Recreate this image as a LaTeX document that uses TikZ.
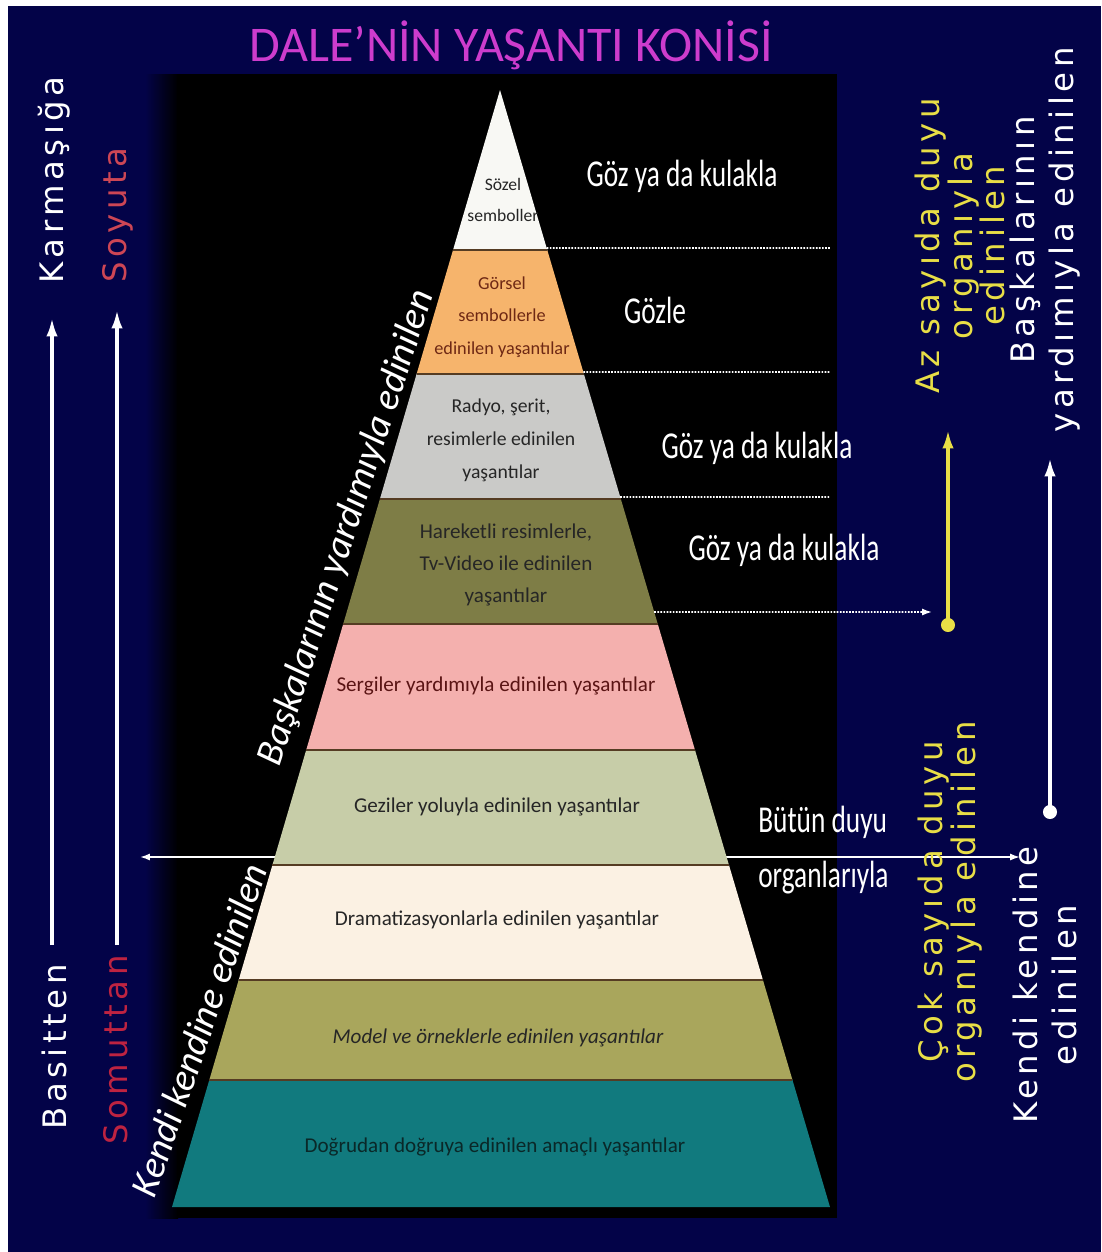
\documentclass[tikz,border=0pt]{standalone}
\usepackage{fontspec}
\usetikzlibrary{calc,arrows.meta}
\setmainfont{Carlito}
\newfontfamily\gozfont[FakeStretch=0.72]{Carlito}
\newfontfamily\sidefont[LetterSpace=14]{DejaVu Sans}

\definecolor{navy}{RGB}{3,3,72}
\definecolor{laywhite}{RGB}{248,248,244}
\definecolor{layorange}{RGB}{246,180,108}
\definecolor{laygray}{RGB}{202,202,200}
\definecolor{layolive}{RGB}{126,125,70}
\definecolor{laypink}{RGB}{244,176,174}
\definecolor{laysage}{RGB}{199,205,168}
\definecolor{laycream}{RGB}{251,241,227}
\definecolor{laykhaki}{RGB}{169,166,92}
\definecolor{layteal}{RGB}{17,122,126}
\definecolor{sepbrown}{RGB}{85,60,35}
\definecolor{titlemag}{RGB}{205,60,205}
\definecolor{yel}{RGB}{232,222,70}
\definecolor{soyred}{RGB}{205,70,85}
\definecolor{somred}{RGB}{190,35,65}

\tikzset{
  laytext/.style={align=center, inner sep=0pt, text=black!85,
    font=\fontsize{15}{23}\selectfont},
  goztext/.style={text=white, inner sep=0pt, font=\gozfont\fontsize{27}{30}\selectfont},
  sidelabel/.style={rotate=90, align=center, inner sep=0pt,
    font=\sidefont\fontsize{23}{28}\selectfont},
  edgelabel/.style={text=white, inner sep=0pt, font=\itshape\fontsize{27.5}{30}\selectfont},
  sepline/.style={sepbrown, line width=2pt},
  dotline/.style={white, densely dotted, line width=1.2pt},
  thinarrow/.style={white, line width=1.2pt, -{Latex[length=7pt,width=5pt]}},
  bigarrow/.style={line width=2.4pt, -{Latex[length=13pt,width=8pt]}},
  dotnode/.style={circle, inner sep=0pt, minimum size=10pt}
}

\begin{document}
\begin{tikzpicture}[x=0.025cm, y=-0.025cm]
\useasboundingbox (0,0) rectangle (1101,1252);
% background
\fill[white] (0,0) rectangle (1101,1252);
\fill[navy] (8,6) rectangle (1101,1252);
\shade[left color=navy, right color=black] (145,74) rectangle (178,1218);
\fill[black] (177,74) rectangle (837,1218);

% title
\node[text=titlemag, inner sep=0pt, font=\fontsize{35.5}{36}\selectfont] (title) at (511,45) {DALE'NİN YAŞANTI KONİSİ};

% the cone
\coordinate (apex) at (500,90);
\coordinate (bl) at (172,1207);
\coordinate (br) at (830,1207);

% horizontal line behind the cone
\coordinate (hl0) at (280,857);
\coordinate (hl1) at (140,857);
\coordinate (hr0) at (722,857);
\coordinate (hr1) at (1020,857);
\draw[thinarrow] (hl0) -- (hl1);
\draw[thinarrow] (hr0) -- (hr1);

\foreach \ya/\yb/\col in {90/250/laywhite, 250/374/layorange, 374/499/laygray,
    499/624/layolive, 624/750/laypink, 750/865/laysage, 865/980/laycream,
    980/1080/laykhaki, 1080/1207/layteal}{
  \pgfmathsetmacro\ta{(\ya-90)/1117}
  \pgfmathsetmacro\tb{(\yb-90)/1117}
  \fill[\col] ($(apex)!\ta!(bl)$) -- ($(apex)!\tb!(bl)$)
    -- ($(apex)!\tb!(br)$) -- ($(apex)!\ta!(br)$) -- cycle;
}
\foreach \yb in {250,374,499,624,750,865,980,1080}{
  \pgfmathsetmacro\tb{(\yb-90)/1117}
  \draw[sepline] ($(apex)!\tb!(bl)$) -- ($(apex)!\tb!(br)$);
}

% layer texts
\node[laytext, font=\fontsize{12.5}{22}\selectfont] (sozel) at (503,200) {Sözel\\semboller};
\node[laytext, text={rgb,255:red,110;green,40;blue,20}, font=\fontsize{13}{23}\selectfont] (gorsel) at (502,317) {Görsel\\sembollerle\\edinilen yaşantılar};
\node[laytext, font=\fontsize{14}{23.5}\selectfont] (radyo) at (501,440) {Radyo, şerit,\\resimlerle edinilen\\yaşantılar};
\node[laytext, font=\fontsize{15}{23}\selectfont] (hareketli) at (506,565) {Hareketli resimlerle,\\Tv-Video ile edinilen\\yaşantılar};
\node[laytext, text={rgb,255:red,90;green,20;blue,20}] (sergiler) at (496,686) {Sergiler yardımıyla edinilen yaşantılar};
\node[laytext] (geziler) at (497,807) {Geziler yoluyla edinilen yaşantılar};
\node[laytext] (drama) at (497,920) {Dramatizasyonlarla edinilen yaşantılar};
\node[laytext, font=\itshape\fontsize{15}{23}\selectfont] (model) at (498,1038) {Model ve örneklerle edinilen yaşantılar};
\node[laytext, text={rgb,255:red,10;green,40;blue,40}] (dogrudan) at (495,1147) {Doğrudan doğruya edinilen amaçlı yaşantılar};

% dotted lines on the right
\foreach \yy/\nm in {248/a, 372/b, 497/c}{
  \pgfmathsetmacro\tc{(\yy-90)/1117}
  \coordinate (dot\nm) at ($(apex)!\tc!(br)$);
  \coordinate (end\nm) at (830,\yy);
  \draw[dotline] (dot\nm) -- (end\nm);
}
\coordinate (dotd) at ($(apex)!{(612-90)/1117}!(br)$);
\coordinate (endd) at (932,612);
\draw[dotline, -{Latex[length=7pt,width=5pt]}] (dotd) -- (endd);

\node[goztext] (goz1) at (682,176) {Göz ya da kulakla};
\node[goztext] (gozle) at (655,310) {Gözle};
\node[goztext] (goz2) at (757,448) {Göz ya da kulakla};
\node[goztext] (goz3) at (784,550) {Göz ya da kulakla};
\node[goztext, anchor=west, align=left, font=\gozfont\fontsize{27}{39}\selectfont] (butun) at (758,850) {Bütün duyu\\organlarıyla};

% labels along the cone edge
\node[edgelabel, rotate=72] (baskaedge) at (347,528) {Başkalarının yardımıyla edinilen};
\node[edgelabel, rotate=71] (kendiedge) at (199,1030) {Kendi kendine edinilen};

% left arrows
\coordinate (la0) at (52,945);
\coordinate (la1) at (52,318);
\coordinate (lb0) at (117,945);
\coordinate (lb1) at (117,310);
\draw[bigarrow, white] (la0) -- (la1);
\draw[bigarrow, white] (lb0) -- (lb1);
\node[sidelabel, text=white] (karmasiga) at (54,180) {Karmaşığa};
\node[sidelabel, text=white] (basitten) at (54,1047) {Basitten};
\node[sidelabel, text=soyred] (soyuta) at (118,215) {Soyuta};
\node[sidelabel, text=somred] (somuttan) at (116,1050) {Somuttan};

% right arrows
\node[dotnode, fill=yel] (ydot) at (948,625) {};
\coordinate (ytop) at (948,430);
\draw[bigarrow, yel] (ydot.center) -- (ytop);
\node[dotnode, fill=white] (wdot) at (1050,812) {};
\coordinate (wtop) at (1050,458);
\draw[bigarrow, white] (wdot.center) -- (wtop);

\node[sidelabel, text=yel, font=\sidefont\fontsize{23}{20}\selectfont] (azsayida) at (960,246) {Az sayıda duyu\\organıyla\\edinilen};
\node[sidelabel, text=yel, font=\sidefont\fontsize{23}{21}\selectfont] (coksayida) at (950,902) {Çok sayıda duyu\\organıyla edinilen};
\node[sidelabel, text=white] (baskalarinin) at (1045,240) {Başkalarının\\yardımıyla edinilen};
\node[sidelabel, text=white] (kendikendine) at (1045,985) {Kendi kendine\\edinilen};
\end{tikzpicture}
\end{document}
